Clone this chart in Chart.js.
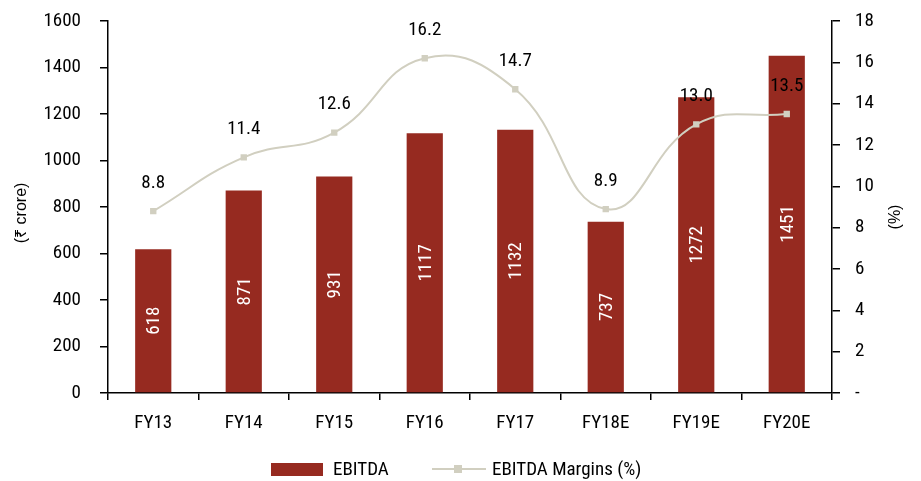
<!DOCTYPE html>
<html>
<head>
<meta charset="utf-8">
<script src="https://cdn.jsdelivr.net/npm/chart.js@4.4.1/dist/chart.umd.min.js"></script>
<style>
  html, body { margin: 0; padding: 0; background: #fff; }
  #wrap { width: 921px; height: 481px; position: relative; }
</style>
</head>
<body>
<div id="wrap"><canvas id="c" width="921" height="481"></canvas></div>
<script>
// Fiscal years on the category axis
const years = ['FY13', 'FY14', 'FY15', 'FY16', 'FY17', 'FY18E', 'FY19E', 'FY20E'];
// EBITDA in ₹ crore (left axis)
const ebitda = [618, 871, 931, 1117, 1132, 737, 1272, 1451];
// EBITDA margin in % (right axis)
const margins = [8.8, 11.4, 12.6, 16.2, 14.7, 8.9, 13.0, 13.5];
// Axis tick values
const leftTicks = [0, 200, 400, 600, 800, 1000, 1200, 1400, 1600];
const rightTicks = [0, 2, 4, 6, 8, 10, 12, 14, 16, 18];

const FONT = '"Roboto Condensed", "DejaVu Sans Condensed", sans-serif';
const FONT_SIZE = 19;
const BAR_COLOR = '#962A20';
const LINE_COLOR = '#D1CFC0';
const AXIS_COLOR = '#000';

// Writes values on the bars (rotated, centred) and above the margin points
const valueLabels = {
  id: 'valueLabels',
  afterDatasetsDraw(chart) {
    const ctx = chart.ctx;
    ctx.save();
    ctx.font = FONT_SIZE + 'px ' + FONT;
    ctx.textAlign = 'center';
    ctx.textBaseline = 'middle';
    const barMeta = chart.getDatasetMeta(1);
    barMeta.data.forEach((bar, i) => {
      const cy = (bar.y + bar.base) / 2;
      ctx.save();
      ctx.translate(bar.x, cy);
      ctx.rotate(-Math.PI / 2);
      ctx.fillStyle = '#fff';
      ctx.fillText(String(ebitda[i]), 0, 1);
      ctx.restore();
    });
    const lineMeta = chart.getDatasetMeta(0);
    lineMeta.data.forEach((pt, i) => {
      ctx.fillStyle = '#000';
      ctx.fillText(margins[i].toFixed(1), pt.x, pt.y - 28);
    });
    ctx.restore();
  }
};

// Axis titles and the legend row underneath the plot
const decorations = {
  id: 'decorations',
  afterDraw(chart) {
    const ctx = chart.ctx;
    ctx.save();
    ctx.fillStyle = '#000';
    ctx.font = '16px "Liberation Sans", Arial, "Noto Sans", sans-serif';
    ctx.textAlign = 'center';
    ctx.textBaseline = 'middle';
    ctx.save();
    ctx.translate(22, 213);
    ctx.rotate(-Math.PI / 2);
    ctx.fillText('(₹ crore)', 0, 0);
    ctx.restore();
    ctx.save();
    ctx.translate(896, 217);
    ctx.rotate(-Math.PI / 2);
    ctx.fillText('(%)', 0, 0);
    ctx.restore();

    // legend
    const ly = 469;
    ctx.fillStyle = BAR_COLOR;
    ctx.fillRect(271, ly - 6, 52, 13);
    ctx.fillStyle = '#000';
    ctx.font = FONT_SIZE + 'px ' + FONT;
    ctx.textAlign = 'left';
    ctx.fillText('EBITDA', 333, ly + 1);
    ctx.strokeStyle = LINE_COLOR;
    ctx.lineWidth = 2;
    ctx.beginPath();
    ctx.moveTo(432, ly);
    ctx.lineTo(486, ly);
    ctx.stroke();
    ctx.fillStyle = LINE_COLOR;
    ctx.fillRect(454, ly - 4, 8, 8);
    ctx.fillStyle = '#000';
    ctx.fillText('EBITDA Margins (%)', 492, ly + 1);
    ctx.restore();
  }
};

// Vertical axes: fixed width and no extra label overhang padding
const fitY = w => scale => {
  scale.width = w;
  scale.paddingTop = 0;
  scale.paddingBottom = 0;
};

new Chart(document.getElementById('c'), {
  data: {
    labels: years,
    datasets: [
      {
        type: 'line',
        label: 'EBITDA Margins (%)',
        data: margins,
        yAxisID: 'y1',
        borderColor: LINE_COLOR,
        backgroundColor: LINE_COLOR,
        borderWidth: 2,
        tension: 0.45,
        pointStyle: 'rect',
        pointRadius: 4.5,
        pointBorderWidth: 0,
        pointBackgroundColor: LINE_COLOR,
        order: 0
      },
      {
        type: 'bar',
        label: 'EBITDA',
        data: ebitda,
        yAxisID: 'y',
        backgroundColor: BAR_COLOR,
        categoryPercentage: 1,
        barPercentage: 0.4,
        order: 1
      }
    ]
  },
  options: {
    responsive: false,
    animation: false,
    events: [],
    layout: { padding: { top: 21, right: 0, bottom: 48, left: 0 } },
    plugins: {
      legend: { display: false },
      tooltip: { enabled: false },
      title: { display: false }
    },
    scales: {
      x: {
        offset: true,
        grid: {
          offset: true,
          drawOnChartArea: false,
          drawTicks: true,
          tickLength: 7,
          color: AXIS_COLOR,
          lineWidth: 1.5
        },
        border: { display: true, color: AXIS_COLOR, width: 1.5 },
        ticks: {
          color: '#000',
          font: { family: FONT, size: FONT_SIZE },
          padding: 12,
          maxRotation: 0
        },
        afterFit(scale) {
          scale.height = 40;
          scale.paddingLeft = 0;
          scale.paddingRight = 0;
        }
      },
      y: {
        position: 'left',
        min: 0,
        max: 1600,
        afterBuildTicks(scale) { scale.ticks = leftTicks.map(v => ({ value: v })); },
        grid: {
          drawOnChartArea: false,
          drawTicks: true,
          tickLength: 8,
          color: AXIS_COLOR,
          lineWidth: 1.5
        },
        border: { display: true, color: AXIS_COLOR, width: 1.5 },
        ticks: {
          color: '#000',
          font: { family: FONT, size: FONT_SIZE },
          padding: 19,
          callback: v => String(v)
        },
        afterFit: fitY(108)
      },
      y1: {
        position: 'right',
        min: 0,
        max: 18,
        afterBuildTicks(scale) { scale.ticks = rightTicks.map(v => ({ value: v })); },
        grid: {
          drawOnChartArea: false,
          drawTicks: true,
          tickLength: 8,
          color: AXIS_COLOR,
          lineWidth: 1.5
        },
        border: { display: true, color: AXIS_COLOR, width: 1.5 },
        ticks: {
          color: '#000',
          font: { family: FONT, size: FONT_SIZE },
          padding: 15,
          callback: v => (v === 0 ? '-' : String(v))
        },
        afterFit: fitY(89)
      }
    }
  },
  plugins: [valueLabels, decorations]
});
</script>
</body>
</html>
